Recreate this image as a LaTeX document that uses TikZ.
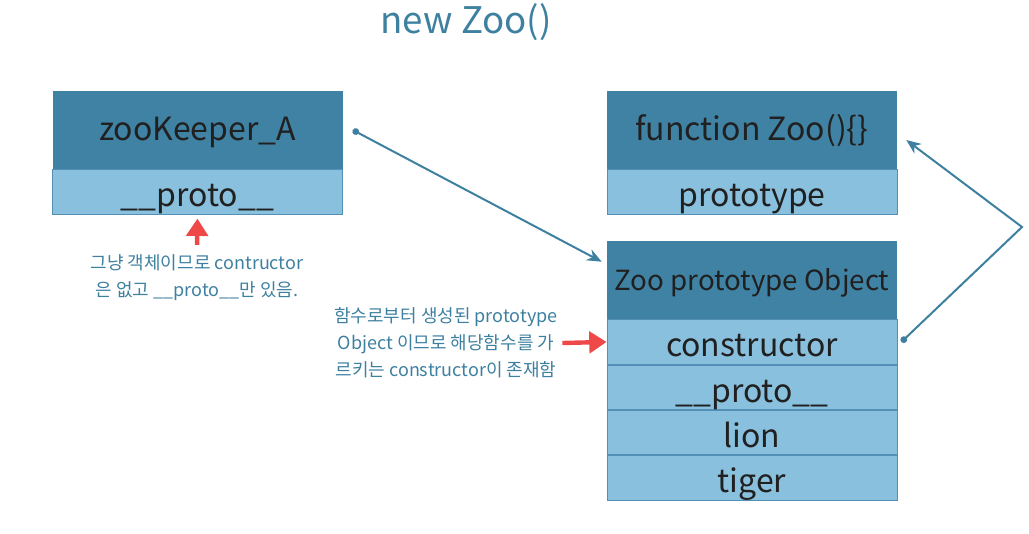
\documentclass[tikz,border=0pt]{standalone}
\usepackage{fontspec}
\setmainfont{Noto Sans CJK KR}
\usetikzlibrary{positioning,arrows.meta}
\definecolor{headfill}{RGB}{64,130,163}
\definecolor{cellfill}{RGB}{137,192,222}
\definecolor{cellline}{RGB}{84,144,182}
\definecolor{linkcol}{RGB}{62,128,160}
\definecolor{redcol}{RGB}{238,72,72}
\definecolor{boxtext}{RGB}{32,32,32}

\begin{document}
\begin{tikzpicture}[
    x=0.75pt, y=-0.75pt,
    head/.style={%
      fill=headfill,
      minimum width=217.5pt,
      minimum height=58.5pt,
      inner sep=0pt,
      text=boxtext,
      font=\fontsize{24pt}{28pt}\selectfont,
      text height=15pt, text depth=0pt,
    },
    cell/.style={%
      fill=cellfill,
      draw=cellline,
      line width=0.6pt,
      minimum width=217.5pt,
      minimum height=33.4pt,
      inner sep=0pt,
      text=boxtext,
      font=\fontsize{24pt}{28pt}\selectfont,
      text height=22.5pt, text depth=0pt,
    },
    note/.style={%
      text=linkcol,
      align=center,
      font=\fontsize{13.5pt}{20.25pt}\selectfont,
    },
    link/.style={%
      draw=linkcol,
      line width=1.5pt,
      arrows={Circle[length=5pt]-Stealth[length=11pt,width=9pt]},
    },
    redarrow/.style={%
      draw=redcol,
      line width=3.3pt,
      -{Triangle[length=13pt,width=16pt]},
    },
  ]

    \useasboundingbox (0,0) rectangle (1029,533);

    \node [text=linkcol, font=\fontsize{27.5pt}{32pt}\selectfont] (title) at (466,22) {new Zoo()};

    % left object
    \node [head] (keeper) at (197.5,130) {zooKeeper\_A};
    \node [cell, below=0pt of keeper] (kproto) {\_\_proto\_\_};

    % constructor function
    \node [head] (zoofn) at (752,130) {function Zoo()\{\}};
    \node [cell, below=0pt of zoofn] (fnproto) {prototype};

    % prototype object
    \node [head, font=\fontsize{20.8pt}{26pt}\selectfont] (zobj) at (752,280) {Zoo prototype Object};
    \node [cell, below=0pt of zobj] (ctor) {constructor};
    \node [cell, below=0pt of ctor] (oproto) {\_\_proto\_\_};
    \node [cell, below=0pt of oproto] (lion) {lion};
    \node [cell, below=0pt of lion] (tiger) {tiger};

    \node [note] (note1) at (197,278) {그냥 객체이므로 contructor\\은 없고 \_\_proto\_\_만 있음.};
    \node [note] (note2) at (446,343) {함수로부터 생성된 prototype\\Object 이므로 해당함수를 가\\르키는 constructor이 존재함};

    \coordinate (bend) at (1022,227);

    \draw [link] ([xshift=7.5pt]keeper.east) -- ([shift={(-5,21)}]zobj.north west);
    \draw [link] ([xshift=3pt]ctor.east) -- (bend) -- ([shift={(9,10)}]zoofn.east);

    \draw [redarrow, shorten <=4pt, shorten >=3pt] (note1.north) -- (kproto.south);
    \draw [redarrow] (note2.east) -- (ctor.west);

\end{tikzpicture}
\end{document}
